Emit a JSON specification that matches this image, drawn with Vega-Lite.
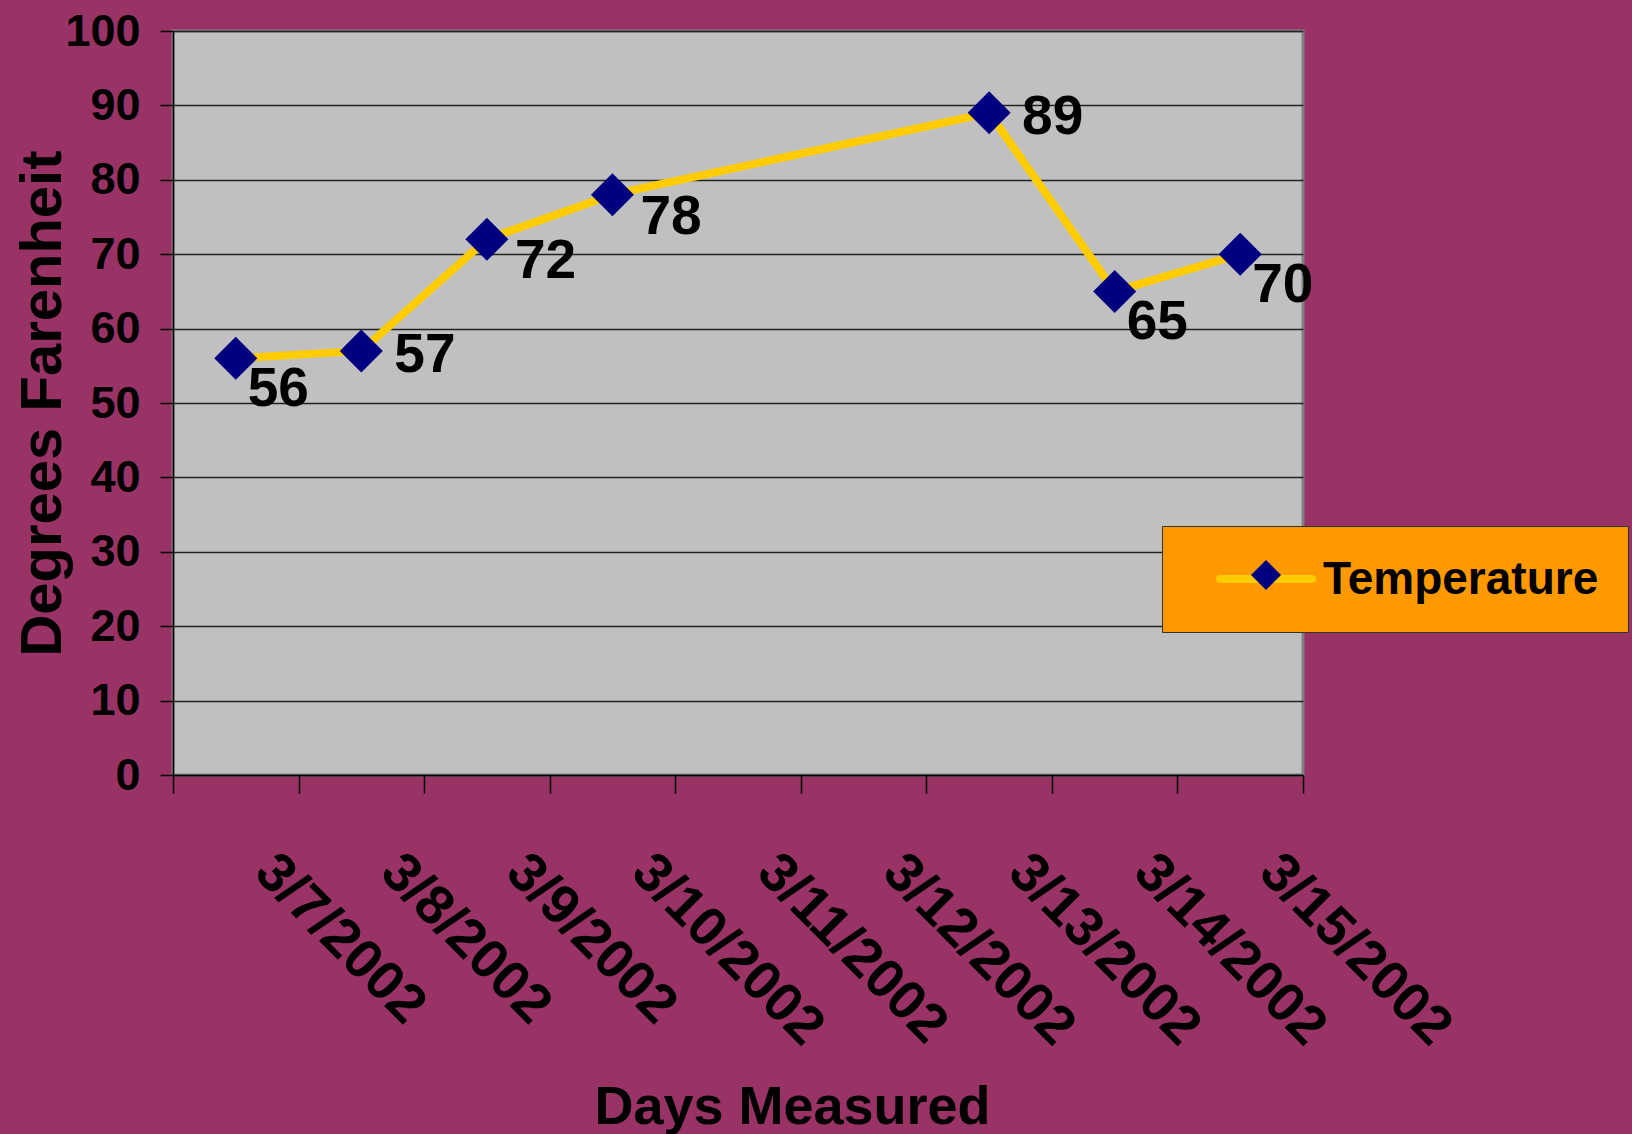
{
  "$schema": "https://vega.github.io/schema/vega-lite/v6.json",
  "width": 1130,
  "height": 744,
  "autosize": {"type": "none"},
  "padding": {"left": 173, "top": 31, "right": 329, "bottom": 359},
  "background": "#993366",
  "config": {
    "font": "Liberation Sans",
    "view": {"fill": "#C0C0C0", "stroke": "#808080", "strokeWidth": 3}
  },
  "data": {
    "values": [
      {"date": "3/7/2002", "temp": 56},
      {"date": "3/8/2002", "temp": 57},
      {"date": "3/9/2002", "temp": 72},
      {"date": "3/10/2002", "temp": 78},
      {"date": "3/13/2002", "temp": 89},
      {"date": "3/14/2002", "temp": 65},
      {"date": "3/15/2002", "temp": 70}
    ]
  },
  "encoding": {
    "x": {
      "field": "date",
      "type": "ordinal",
      "scale": {
        "type": "band",
        "domain": ["3/7/2002", "3/8/2002", "3/9/2002", "3/10/2002", "3/11/2002", "3/12/2002", "3/13/2002", "3/14/2002", "3/15/2002"],
        "paddingInner": 0,
        "paddingOuter": 0
      },
      "axis": {
        "title": "Days Measured",
        "titleFont": "Liberation Sans",
        "titleFontSize": 54,
        "titleFontWeight": "bold",
        "titleColor": "#000000",
        "titleX": 619,
        "titleY": 348,
        "titleAlign": "center",
        "titleBaseline": "alphabetic",
        "labelAngle": 45,
        "labelAlign": "left",
        "labelBaseline": "top",
        "labelFont": "Liberation Sans",
        "labelFontSize": 55,
        "labelFontWeight": "bold",
        "labelColor": "#000000",
        "labelOffset": 47,
        "labelPadding": 51,
        "labelLimit": 1000,
        "labelOverlap": false,
        "labelBound": false,
        "tickBand": "extent",
        "tickSize": 18,
        "tickColor": "#000000",
        "tickWidth": 1.5,
        "domainColor": "#000000",
        "domainWidth": 1.5,
        "grid": false
      }
    },
    "y": {
      "field": "temp",
      "type": "quantitative",
      "scale": {"domain": [0, 100], "nice": false},
      "axis": {
        "title": "Degrees Farenheit",
        "titleFont": "Liberation Sans",
        "titleFontSize": 58,
        "titleFontWeight": "bold",
        "titleColor": "#000000",
        "titleAngle": 270,
        "titleX": -113,
        "titleY": 372,
        "titleAlign": "center",
        "titleBaseline": "alphabetic",
        "values": [0, 10, 20, 30, 40, 50, 60, 70, 80, 90, 100],
        "labelFont": "Liberation Sans",
        "labelFontSize": 45,
        "labelFontWeight": "bold",
        "labelColor": "#000000",
        "labelPadding": 20,
        "tickSize": 13,
        "tickColor": "#000000",
        "tickWidth": 1.5,
        "domainColor": "#000000",
        "domainWidth": 1.5,
        "grid": true,
        "gridColor": "#222222",
        "gridWidth": 1.3
      }
    }
  },
  "layer": [
    {
      "mark": {"type": "line", "strokeWidth": 8},
      "encoding": {
        "color": {
          "datum": "Temperature",
          "scale": {"range": ["#FFCC00"]},
          "legend": {
            "orient": "none",
            "legendX": 989,
            "legendY": 495,
            "title": null,
            "fillColor": "#FF9900",
            "strokeColor": "#333333",
            "padding": 29,
            "symbolType": "M-2,-0.13H2",
            "symbolSize": 2116,
            "symbolStrokeWidth": 8,
            "symbolStrokeColor": "#FFCC00",
            "symbolFillColor": "transparent",
            "symbolOffset": 48,
            "labelOffset": 30,
            "labelFont": "Liberation Sans",
            "labelFontSize": 46,
            "labelFontWeight": "bold",
            "labelColor": "#000000",
            "labelLimit": 1000,
            "labelExpr": "datum.label + '\u00a0\u00a0\u00a0'",
            "zindex": 1,
            "encode": {
              "symbols": {"update": {"strokeCap": {"value": "round"}}},
              "labels": {"update": {"dy": {"value": -2}}}
            }
          }
        }
      }
    },
    {
      "mark": {"type": "point", "shape": "diamond", "filled": true, "size": 1850, "opacity": 1, "strokeWidth": 0},
      "encoding": {
        "fill": {
          "datum": "Temperature ",
          "scale": {"range": ["#000080"]},
          "legend": {
            "orient": "none",
            "legendX": 989,
            "legendY": 495,
            "title": null,
            "fillColor": "transparent",
            "strokeColor": "transparent",
            "padding": 29,
            "symbolType": "M-1,-0.2L0,-1.2L1,-0.2L0,0.8Z",
            "symbolSize": 900,
            "symbolFillColor": "#000080",
            "symbolStrokeColor": "transparent",
            "symbolStrokeWidth": 0,
            "symbolOffset": 52,
            "labelOffset": 30,
            "labelFont": "Liberation Sans",
            "labelFontSize": 46,
            "labelFontWeight": "bold",
            "labelExpr": "''",
            "labelLimit": 1000,
            "zindex": 2
          }
        }
      }
    },
    {
      "transform": [{"filter": {"field": "date", "oneOf": ["3/8/2002", "3/13/2002"]}}],
      "mark": {"type": "text", "align": "left", "baseline": "middle", "dx": 33, "dy": 4, "font": "Liberation Sans", "fontSize": 55, "fontWeight": "bold", "color": "#000000"},
      "encoding": {"text": {"field": "temp", "type": "quantitative"}}
    },
    {
      "transform": [{"filter": {"field": "date", "oneOf": ["3/9/2002", "3/10/2002"]}}],
      "mark": {"type": "text", "align": "left", "baseline": "middle", "dx": 28, "dy": 22, "font": "Liberation Sans", "fontSize": 55, "fontWeight": "bold", "color": "#000000"},
      "encoding": {"text": {"field": "temp", "type": "quantitative"}}
    },
    {
      "transform": [{"filter": {"field": "date", "oneOf": ["3/7/2002", "3/14/2002", "3/15/2002"]}}],
      "mark": {"type": "text", "align": "left", "baseline": "middle", "dx": 12, "dy": 31, "font": "Liberation Sans", "fontSize": 55, "fontWeight": "bold", "color": "#000000"},
      "encoding": {"text": {"field": "temp", "type": "quantitative"}}
    }
  ]
}
